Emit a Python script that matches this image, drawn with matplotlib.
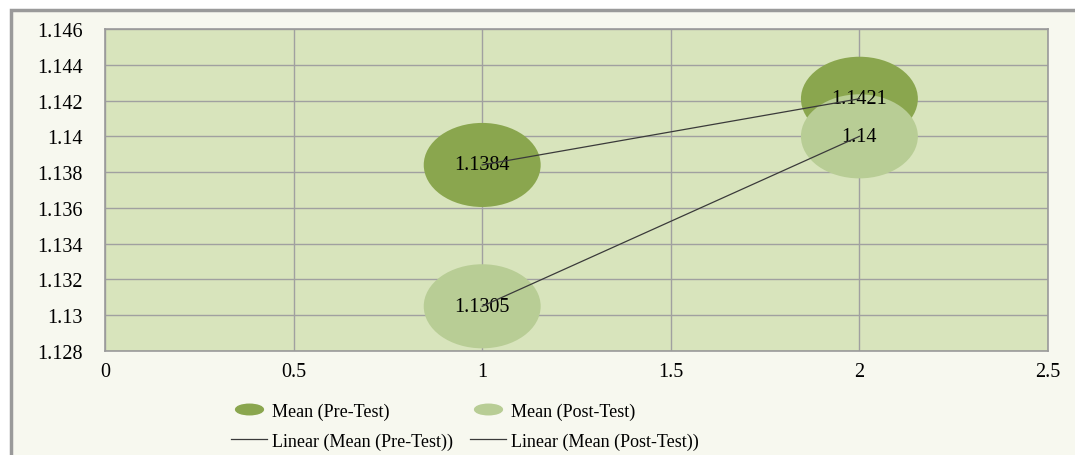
import matplotlib.pyplot as plt
import numpy as np
from matplotlib.patches import Ellipse, Rectangle
from matplotlib.lines import Line2D
from matplotlib.path import Path
from matplotlib.ticker import FuncFormatter, MultipleLocator

plt.rcParams['font.family'] = ['Liberation Serif', 'DejaVu Serif']

# data
sessions = [1, 2]
mean_pre = [1.1384, 1.1421]
mean_post = [1.1305, 1.14]
labels_pre = ['1.1384', '1.1421']
labels_post = ['1.1305', '1.14']

PRE_COLOR = '#8aa64e'
POST_COLOR = '#b8cd95'
PLOT_BG = '#d8e4bc'
GRID_COLOR = '#a0a0a0'
FONT_SIZE = 13
NUM_SIZE = 14.5

fig = plt.figure(figsize=(10.75, 4.56), dpi=100)

# outer chart frame
fig.patches.append(Rectangle((11 / 1075, -0.1), 1.2, 1.1 - 10.5 / 456,
                             transform=fig.transFigure, facecolor='#f7f8ef',
                             edgecolor='#9a9a9a', linewidth=2.5, zorder=-5))

ax = fig.add_axes([105 / 1075, 1 - 352 / 456, 943 / 1075, 322 / 456])
ax.set_facecolor(PLOT_BG)
ax.set_xlim(0, 2.5)
ax.set_ylim(1.128, 1.146)
ax.xaxis.set_major_locator(MultipleLocator(0.5))
ax.yaxis.set_major_locator(MultipleLocator(0.002))

fmt = FuncFormatter(lambda v, p: f'{v:.3f}'.rstrip('0').rstrip('.'))
ax.xaxis.set_major_formatter(fmt)
ax.yaxis.set_major_formatter(fmt)
ax.tick_params(axis='both', length=0, labelsize=NUM_SIZE)
ax.tick_params(axis='y', pad=16)
ax.tick_params(axis='x', pad=8)
ax.grid(True, color=GRID_COLOR, linewidth=1)
ax.set_axisbelow(True)
for s in ax.spines.values():
    s.set_color('#9a9a9a')
    s.set_linewidth(1.2)

# bubbles (drawn as ellipses in data units)
bw, bh = 0.31, 0.0047
for x, y in zip(sessions, mean_pre):
    ax.add_patch(Ellipse((x, y), bw, bh, facecolor=PRE_COLOR, edgecolor='none', zorder=2))
for x, y in zip(sessions, mean_post):
    ax.add_patch(Ellipse((x, y), bw, bh, facecolor=POST_COLOR, edgecolor='none', zorder=3))

# linear trend lines
xs = np.array(sessions)
for ys in (mean_pre, mean_post):
    k, b = np.polyfit(xs, ys, 1)
    ax.plot(xs, k * xs + b, color='#3a3a3a', linewidth=0.9, zorder=5)

# data labels
for x, y, t in zip(sessions, mean_pre, labels_pre):
    ax.text(x, y, t, ha='center', va='center', fontsize=NUM_SIZE, zorder=4)
for x, y, t in zip(sessions, mean_post, labels_post):
    ax.text(x, y, t, ha='center', va='center', fontsize=NUM_SIZE, zorder=4)

# legend
circ = Path.unit_circle()
flat = Path(circ.vertices * np.array([1.0, 0.38]), circ.codes)
handles = [
    Line2D([], [], linestyle='none', marker=flat, markersize=20, color=PRE_COLOR),
    Line2D([], [], color='#3a3a3a', linewidth=0.9),
    Line2D([], [], linestyle='none', marker=flat, markersize=20, color=POST_COLOR),
    Line2D([], [], color='#3a3a3a', linewidth=0.9),
]
names = ['Mean (Pre-Test)', 'Linear (Mean (Pre-Test))',
         'Mean (Post-Test)', 'Linear (Mean (Post-Test))']
fig.legend(handles, names, loc='center', bbox_to_anchor=(465 / 1075, 1 - 427 / 456),
           ncol=2, frameon=False, fontsize=FONT_SIZE, handlelength=2.0,
           handletextpad=0.3, columnspacing=0.9, labelspacing=0.7)

fig.savefig('out.png', dpi=100)
